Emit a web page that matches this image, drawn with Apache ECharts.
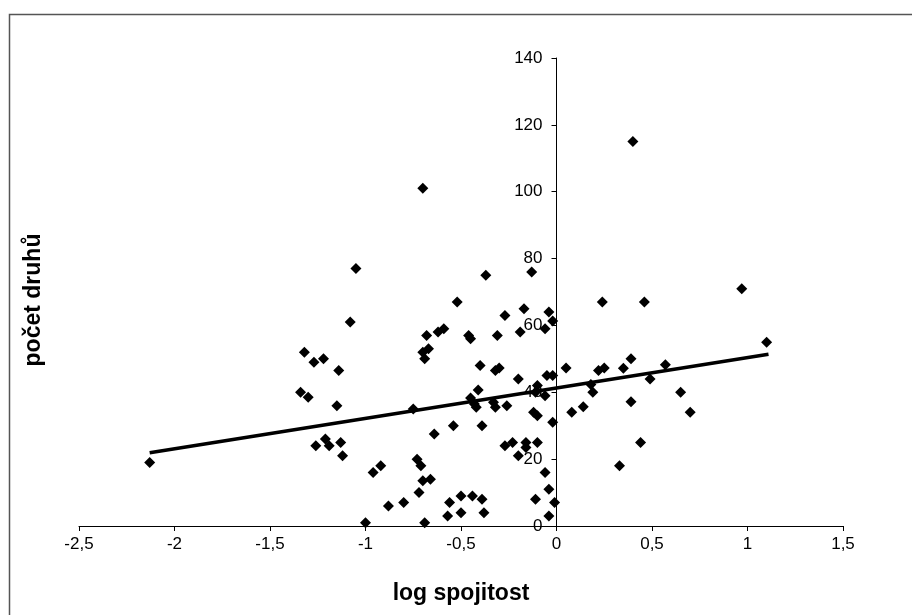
<!DOCTYPE html>
<html>
<head>
<meta charset="utf-8">
<script src="https://cdn.jsdelivr.net/npm/echarts@6/dist/echarts.min.js"></script>
<style>html,body{margin:0;padding:0;background:#fff;}#c{width:912px;height:615px;}</style>
</head>
<body>
<div id="c"></div>
<script>
// log spojitost values
const xs = [-2.13,-1.05,-1.08,-1.32,-1.27,-1.22,-1.14,-1.34,-1.30,-1.15,-1.26,-1.21,-1.19,-1.13,-1.12,-0.96,-0.92,-1.00,-0.88,-0.80,
  -0.75,-0.73,-0.71,-0.70,-0.66,-0.72,-0.69,-0.70,-0.70,-0.67,-0.69,-0.68,-0.64,-0.62,-0.59,-0.52,-0.54,-0.56,-0.50,-0.57,
  -0.50,-0.44,-0.39,-0.38,-0.46,-0.45,-0.40,-0.41,-0.45,-0.43,-0.42,-0.39,-0.37,-0.33,-0.32,-0.31,-0.32,-0.30,-0.27,-0.26,
  -0.27,-0.23,-0.20,-0.19,-0.20,-0.17,-0.13,-0.16,-0.16,-0.12,-0.10,-0.11,-0.10,-0.11,-0.10,-0.06,-0.06,-0.06,-0.04,-0.02,
  -0.05,-0.02,-0.02,-0.04,-0.01,-0.04,
  0.05,0.08,0.14,0.18,0.19,0.22,0.25,0.24,0.35,0.39,0.39,0.44,0.33,0.40,0.46,0.49,0.57,0.65,0.70,0.97,1.10];
// počet druhů values
const ys = [19,77,61,52,49,50,46.5,40,38.5,36,24,26,24,25,21,16,18,1,6,7,
  35,20,18,13.5,14,10,1,101,52,53,50,57,27.5,58,59,67,30,7,9,3,
  4,9,8,4,57,56,48,40.7,38.3,36.5,35.5,30,75,37,35.5,57,46.5,47.3,63,36,
  24,25,44,58,21,65,76,25,23.5,34,33,8,42,40,25,39,59,16,64,61.3,
  45,45,31,11,7,3,
  47.3,34,35.7,42.3,40,46.5,47.3,67,47.2,50,37.2,25,18,115,67,44,48.2,40,34,71,55];
// trend line end points
const trendX = [-2.13, 1.11];
const trendY = [21.9, 51.4];
// axis ticks
const xTicks = {min: -2.5, max: 1.5, interval: 0.5};
const yTicks = {min: 0, max: 140, interval: 20};

const pts = xs.map((x, i) => [x, ys[i]]);
const trend = trendX.map((x, i) => [x, trendY[i]]);

const W = 912, gridLeft = 79, gridRight = 69;
const plotW = W - gridLeft - gridRight;
// shift y axis so it sits at x = 0 of the x scale
const yOffset = -plotW * (0 - xTicks.min) / (xTicks.max - xTicks.min);

const chart = echarts.init(document.getElementById('c'));
const font = 'Liberation Sans, Arial, sans-serif';
chart.setOption({
  backgroundColor: '#fff',
  animation: false,
  grid: {left: gridLeft, right: gridRight, top: 58, bottom: 89},
  xAxis: {
    type: 'value', min: xTicks.min, max: xTicks.max, interval: xTicks.interval,
    splitLine: {show: false},
    axisLine: {show: true, onZero: false, lineStyle: {color: '#000', width: 1}},
    axisTick: {show: true, length: 5, lineStyle: {color: '#000'}},
    axisLabel: {color: '#000', fontFamily: font, fontSize: 17, margin: 10,
      formatter: v => String(v).replace('.', ',')},
    name: 'log spojitost', nameLocation: 'middle', nameGap: 56,
    nameTextStyle: {color: '#000', fontFamily: font, fontSize: 23, fontWeight: 'bold'}
  },
  yAxis: {
    type: 'value', min: yTicks.min, max: yTicks.max, interval: yTicks.interval,
    offset: yOffset,
    splitLine: {show: false},
    axisLine: {show: true, onZero: false, lineStyle: {color: '#000', width: 1}},
    axisTick: {show: true, length: 5, lineStyle: {color: '#000'}},
    axisLabel: {color: '#000', fontFamily: font, fontSize: 17, margin: 14}
  },
  graphic: [
    {type: 'rect', shape: {x: 9.5, y: 14.5, width: 1000, height: 700},
      style: {fill: 'none', stroke: '#555', lineWidth: 1.5}, silent: true},
    {type: 'text', x: 34, y: 300, rotation: Math.PI / 2,
      style: {text: 'počet druhů', fill: '#000', font: 'bold 23px ' + font,
        textAlign: 'center', textVerticalAlign: 'middle'}}
  ],
  series: [
    {type: 'scatter', data: pts, symbol: 'diamond', symbolSize: 11,
      itemStyle: {color: '#000', opacity: 1}, z: 2},
    {type: 'line', data: trend, symbol: 'none', lineStyle: {color: '#000', width: 3.5}, z: 3}
  ]
});
</script>
</body>
</html>
